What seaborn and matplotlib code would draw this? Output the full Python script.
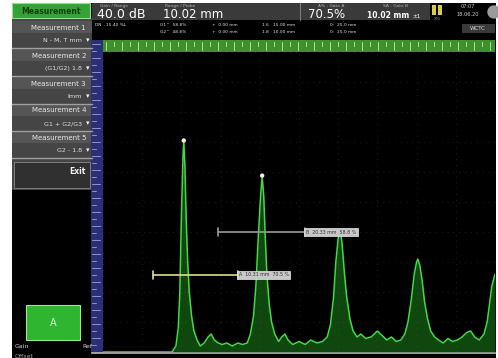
import numpy as np
import pandas as pd
import matplotlib
matplotlib.use("Agg")
import matplotlib.pyplot as plt
import seaborn as sns
from matplotlib.patches import Rectangle

# A-scan trace: depth (mm, 0-50 screen range) and amplitude (% FSH)
depth = [0.0, 8.8, 9.3, 9.6, 9.8, 10.0, 10.2, 10.3, 10.45, 10.6, 10.8, 11.0, 11.3, 11.6, 12.0,
         12.4, 12.9, 13.4, 13.8, 14.2, 14.7, 15.2, 15.8, 16.5, 17.2, 17.8, 18.4, 18.8, 19.2,
         19.5, 19.8, 20.1, 20.3, 20.5, 20.7, 20.9, 21.2, 21.5, 21.9, 22.4, 22.8, 23.2, 23.6,
         24.2, 25.0, 25.8, 26.5, 27.3, 28.0, 28.6, 29.0, 29.4, 29.7, 30.0, 30.25, 30.5, 30.8,
         31.1, 31.5, 31.9, 32.4, 32.9, 33.5, 34.2, 35.0, 35.6, 36.2, 36.8, 37.4, 38.0, 38.5,
         38.9, 39.3, 39.7, 40.0, 40.15, 40.4, 40.7, 41.0, 41.4, 41.8, 42.3, 42.8, 43.4, 44.0,
         44.6, 45.2, 45.8, 46.4, 46.9, 47.4, 48.0, 48.6, 49.0, 49.3, 49.6, 50.0]
amplitude = [0, 0, 2, 8, 20, 45, 65, 70.5, 62, 45, 30, 20, 12, 7, 4,
             2, 3, 5, 6, 4, 3, 2.5, 3, 2, 3, 2.5, 3, 6, 12,
             22, 38, 52, 58.5, 52, 38, 26, 16, 10, 6, 3.5, 5, 6, 4,
             2.5, 3.5, 2.5, 4, 3, 3.5, 5, 9, 18, 30, 38, 40.7, 36, 26,
             18, 11, 7, 5, 6, 4.5, 5, 7, 5.5, 4, 5, 3.5, 4, 6,
             10, 17, 26, 30, 31, 29, 24, 17, 11, 7, 5, 4, 3, 4.5,
             3.5, 4, 5, 6.5, 7, 5, 4, 6, 10, 16, 22, 26]

# echo markers (gate crossings)
mark_depth = [10.3, 20.3]
mark_amp = [70.5, 58.8]

# gates: start, end (mm), threshold (%)
gate_a = (6.4, 17.2, 25.7)
gate_b = (14.7, 25.8, 40.0)
gate_a_label = "A  10.31 mm  70.5 %"
gate_b_label = "B  20.33 mm  58.8 %"

menu_titles = ["Measurement 1", "Measurement 2", "Measurement 3", "Measurement 4", "Measurement 5"]
menu_values = ["N - M, T mm", "(G1/G2) 1.8", "Imm", "G1 + G2/G3", "G2 - 1.8"]

W, H = 498, 358
fig = plt.figure(figsize=(W / 100, H / 100), dpi=100, facecolor="white")

# screen chrome drawn in pixel coordinates
ui = fig.add_axes([0, 0, 1, 1])
ui.set_xlim(0, W)
ui.set_ylim(H, 0)
ui.axis("off")


def box(x0, y0, x1, y1, fc, ec="none", lw=0.0, z=1):
    ui.add_patch(Rectangle((x0, y0), x1 - x0, y1 - y0, facecolor=fc, edgecolor=ec, linewidth=lw, zorder=z))


box(12, 3, 496, H, "black", z=0)

# left menu
box(12, 18, 92, 190, "#454545")
box(12, 3, 90, 18, "#34a234", ec="#8ee08e", lw=0.8)
ui.text(51, 11, "Measurement", color="#0f3f0f", fontsize=5.5, ha="center", va="center", weight="bold")
starts = [21, 49, 77, 104, 131]
for s, t, v in zip(starts, menu_titles, menu_values):
    box(12, s, 92, s + 12, "#555555")
    ui.text(86, s + 6.5, t, color="#e8e8e8", fontsize=5, ha="right", va="center")
    ui.text(82, s + 19.5, v, color="#e0e0e0", fontsize=4.6, ha="right", va="center")
    ui.text(88, s + 19.5, "\u25be", color="#f0f0f0", fontsize=5, ha="center", va="center")
    ui.plot([12, 92], [s + 27, s + 27], color="#a0a0a0", lw=1.0)
box(14, 162, 90, 188, "#303030", ec="#8a8a8a", lw=0.6)
ui.text(86, 172, "Exit", color="#f0f0f0", fontsize=5.5, ha="right", va="center", weight="bold")

# softkey A
box(26, 305, 80, 340, "#2fb52f", ec="#9be89b", lw=0.8)
ui.text(53, 323, "A", color="#d8ffd8", fontsize=7, ha="center", va="center")
ui.text(15, 347, "Gain", color="#d0d0d0", fontsize=4.5, ha="left", va="center")
ui.text(92, 347, "Ref", color="#d0d0d0", fontsize=4.5, ha="right", va="center")
ui.text(15, 356, "Offset", color="#a0a0a0", fontsize=4.5, ha="left", va="center")

# header readouts
box(92, 3, 430, 20, "#3a3a3a")
ui.plot([300, 300], [3, 20], color="#7a7a7a", lw=0.8)
ui.text(100, 6, "Gain / Range", color="#b0b0b0", fontsize=3.2, ha="left", va="center")
ui.text(165, 6, "Range / Probe", color="#b0b0b0", fontsize=3.2, ha="left", va="center")
ui.text(97, 15, "40.0 dB", color="white", fontsize=9, ha="left", va="center")
ui.text(163, 15, "10.02 mm", color="white", fontsize=8.5, ha="left", va="center")
ui.text(318, 6, "A% - Gate A", color="#b0b0b0", fontsize=3.2, ha="left", va="center")
ui.text(383, 6, "SA - Gate B", color="#b0b0b0", fontsize=3.2, ha="left", va="center")
ui.text(308, 15, "70.5%", color="white", fontsize=8.5, ha="left", va="center")
ui.text(367, 16, "10.02 mm", color="white", fontsize=5.5, ha="left", va="center", weight="bold")
ui.text(412, 16, "\u00b11", color="white", fontsize=4, ha="left", va="center")
box(432, 5, 436, 15, "#d8cc4a")
box(438, 5, 442, 15, "#d8cc4a")
ui.text(437, 18.5, "X/S", color="#8f80d0", fontsize=3, ha="center", va="center")
ui.text(468, 7, "07:07", color="#d0d0d0", fontsize=3.6, ha="center", va="center")
ui.text(468, 14, "18.06.20", color="#d0d0d0", fontsize=3.6, ha="center", va="center")
ui.add_patch(plt.Circle((494, 12), 6, color="#9a9a9a", zorder=2))

# second status rows
row1 = ["DN  -15.40 %L", "G1^  58.8%", "+  0.00 mm", "1.6   15.00 mm", "0:  25.0 mm"]
row2 = ["", "G2^  48.8%", "+  0.00 mm", "1.8   10.00 mm", "0:  25.0 mm"]
xs = [95, 160, 212, 262, 330]
for x, a, b in zip(xs, row1, row2):
    ui.text(x, 25, a, color="#e0e0e0", fontsize=3.2, ha="left", va="center")
    ui.text(x, 32, b, color="#e0e0e0", fontsize=3.2, ha="left", va="center")
box(462, 24, 495, 33, "#3a3a3a")
ui.text(478, 28.5, "WCTC", color="#d8d8d8", fontsize=4, ha="center", va="center")

# rulers
box(91, 40, 103, 353, "#2a2f78")
for y in np.arange(44, 352, 7):
    ui.plot([92, 96 if (y // 7) % 2 else 100], [y, y], color="#b8bce8", lw=0.5)
box(103, 40, 495, 52, "#3f8f2e")
for x in np.arange(106, 495, 8):
    ui.plot([x, x], [42, 50 if (x // 8) % 2 else 46], color="#b8f0a0", lw=0.6)
ui.plot([92, 495], [352.5, 352.5], color="#b8b8b8", lw=1.2, zorder=5)

# A-scan
sns.set_style("dark")
ax = fig.add_axes([103 / W, (H - 352) / H, 392 / W, 300 / H])
ax.set_facecolor("black")
df = pd.DataFrame({"depth": depth, "amplitude": amplitude})
ax.fill_between(df["depth"], df["amplitude"], color="#1f8f1f", alpha=0.5, lw=0)
sns.lineplot(data=df, x="depth", y="amplitude", ax=ax, color="#45d845", lw=1.1)
sns.scatterplot(x=mark_depth, y=mark_amp, ax=ax, color="#f0f0e0", s=10, edgecolor="none", zorder=5)

for (g0, g1, gy), col, lab in [(gate_a, "#e0dc90", gate_a_label), (gate_b, "#9a9a9a", gate_b_label)]:
    ax.plot([g0, g1], [gy, gy], color=col, lw=1.2)
    ax.plot([g0, g0], [gy - 1.2, gy + 1.2], color=col, lw=1.2)
    ax.plot([g1, g1], [gy - 1.2, gy + 1.2], color=col, lw=1.2)
    ax.text(g1 + 0.1, gy, lab, fontsize=3.4, color="#303030", ha="left", va="center",
            bbox=dict(boxstyle="square,pad=0.35", fc="#c8c8c8", ec="#e8e8e8", lw=0.5))

ax.set_xlim(0, 50)
ax.set_ylim(0, 100)
ax.set_xticks(np.arange(0, 51, 5))
ax.set_yticks(np.arange(0, 101, 10))
ax.set_xticklabels([])
ax.set_yticklabels([])
ax.tick_params(length=0)
ax.grid(True, color="#2c2c2c", linestyle=(0, (1, 6)), lw=0.6)
ax.set_xlabel("")
ax.set_ylabel("")
for sp in ax.spines.values():
    sp.set_visible(False)

fig.savefig("out.png", dpi=100, facecolor="white")
